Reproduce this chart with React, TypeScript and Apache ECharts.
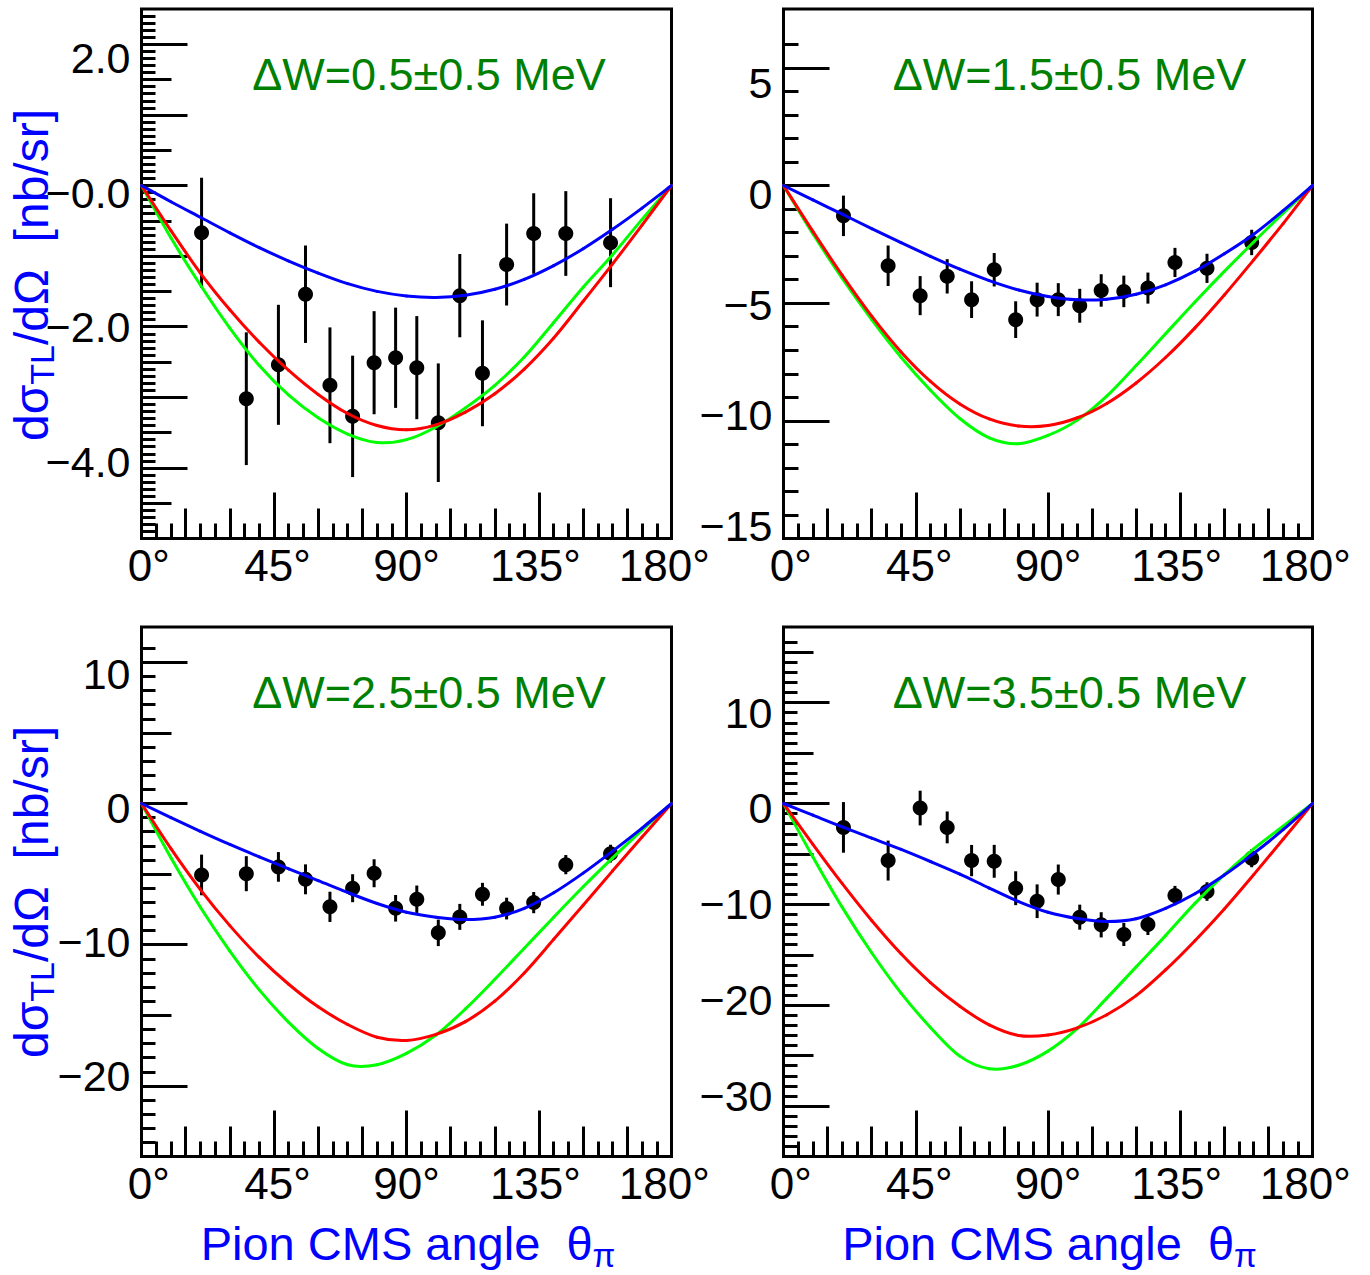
import React, { useEffect, useRef } from 'react';
import * as echarts from 'echarts';

const FONT = "'Liberation Sans', Arial, Helvetica, sans-serif";

// ---------- data ----------
const ANGLES = [20.4, 35.6, 46.5, 55.7, 64.0, 71.7, 79.0, 86.3, 93.5, 100.8, 108.1, 115.8, 124.0, 133.2, 144.1, 159.3];
const CURVE_ANGLES = [0, 10, 20, 30, 40, 50, 60, 70, 80, 90, 100, 110, 120, 130, 140, 150, 160, 170, 180];

const P1_VALUES = [-0.67, -3.02, -2.54, -1.54, -2.83, -3.27, -2.51, -2.44, -2.58, -3.36, -1.56, -2.66, -1.12, -0.68, -0.68, -0.81];
const P1_ERRORS = [0.78, 0.94, 0.85, 0.69, 0.82, 0.86, 0.73, 0.71, 0.73, 0.84, 0.59, 0.75, 0.58, 0.57, 0.60, 0.63];
const P1_BLUE = [0, -0.23, -0.45, -0.67, -0.88, -1.07, -1.24, -1.39, -1.50, -1.565, -1.585, -1.555, -1.47, -1.33, -1.135, -0.895, -0.62, -0.32, 0];
const P1_RED = [0, -0.64, -1.24, -1.76, -2.22, -2.62, -2.96, -3.23, -3.40, -3.46, -3.39, -3.21, -2.95, -2.60, -2.16, -1.64, -1.11, -0.56, 0];
const P1_GREEN = [0, -0.74, -1.41, -2.02, -2.55, -2.97, -3.29, -3.52, -3.64, -3.60, -3.42, -3.15, -2.83, -2.43, -1.94, -1.44, -0.98, -0.48, 0];

const P2_VALUES = [-1.29, -3.41, -4.68, -3.86, -4.85, -3.58, -5.70, -4.85, -4.85, -5.11, -4.46, -4.50, -4.36, -3.27, -3.52, -2.42];
const P2_ERRORS = [0.86, 0.86, 0.83, 0.73, 0.78, 0.71, 0.78, 0.72, 0.70, 0.72, 0.69, 0.67, 0.66, 0.62, 0.62, 0.54];
const P2_BLUE = [0, -0.61, -1.22, -1.83, -2.43, -3.01, -3.555, -4.04, -4.44, -4.72, -4.86, -4.83, -4.62, -4.22, -3.64, -2.90, -2.07, -1.07, 0];
const P2_RED = [0, -1.95, -3.82, -5.55, -7.07, -8.32, -9.28, -9.92, -10.22, -10.20, -9.87, -9.26, -8.39, -7.31, -6.05, -4.65, -3.16, -1.62, 0];
const P2_GREEN = [0, -2.05, -3.95, -5.70, -7.30, -8.70, -9.90, -10.72, -10.97, -10.62, -9.97, -8.95, -7.65, -6.30, -4.95, -3.65, -2.40, -1.18, 0];

const P3_VALUES = [-5.06, -4.97, -4.49, -5.37, -7.32, -6.00, -4.94, -7.42, -6.78, -9.16, -8.03, -6.43, -7.44, -7.02, -4.33, -3.55];
const P3_ERRORS = [1.44, 1.24, 1.05, 1.06, 1.07, 0.99, 0.99, 0.94, 0.97, 0.94, 0.92, 0.81, 0.77, 0.75, 0.68, 0.63];
const P3_BLUE = [0, -1.00, -1.97, -2.90, -3.78, -4.63, -5.46, -6.30, -7.08, -7.70, -8.05, -8.22, -8.05, -7.42, -6.32, -4.93, -3.37, -1.74, 0];
const P3_RED = [0, -3.20, -6.10, -8.65, -10.90, -12.80, -14.40, -15.65, -16.55, -16.78, -16.35, -15.45, -14.00, -12.00, -9.62, -7.20, -4.77, -2.38, 0];
const P3_GREEN = [0, -3.85, -7.35, -10.45, -13.20, -15.50, -17.35, -18.50, -18.50, -17.70, -16.40, -14.55, -12.45, -10.25, -8.05, -5.90, -3.85, -1.88, 0];

const P4_VALUES = [-2.37, -5.66, -0.45, -2.37, -5.66, -5.73, -8.40, -9.69, -7.54, -11.27, -12.03, -12.99, -12.00, -9.13, -8.73, -5.43];
const P4_ERRORS = [2.51, 1.98, 1.72, 1.58, 1.55, 1.63, 1.68, 1.67, 1.49, 1.24, 1.25, 1.14, 1.04, 0.96, 0.92, 0.89];
const P4_BLUE = [0, -1.15, -2.32, -3.43, -4.55, -5.75, -7.00, -8.38, -9.72, -10.78, -11.40, -11.70, -11.42, -10.40, -8.95, -7.10, -4.95, -2.60, 0];
const P4_RED = [0, -4.05, -7.95, -11.60, -14.90, -17.75, -20.10, -21.95, -23.00, -22.95, -22.25, -20.95, -19.05, -16.50, -13.60, -10.45, -7.05, -3.55, 0];
const P4_GREEN = [0, -5.30, -10.30, -14.80, -18.80, -22.20, -25.05, -26.30, -25.95, -24.55, -22.30, -19.30, -16.20, -13.10, -9.90, -7.05, -4.50, -2.25, 0];

// tick labels
const X_LABELS = [0, 45, 90, 135, 180];
const P1_LABELS = [2, 0, -2, -4];
const P2_LABELS = [5, 0, -5, -10, -15];
const P3_LABELS = [10, 0, -10, -20];
const P4_LABELS = [10, 0, -10, -20, -30];

const TITLES = ['ΔW=0.5±0.5 MeV', 'ΔW=1.5±0.5 MeV', 'ΔW=2.5±0.5 MeV', 'ΔW=3.5±0.5 MeV'];

// ---------- layout / styling ----------
const GRIDS = [
  { left: 141.5, top: 9, width: 530, height: 529.5 },
  { left: 783.5, top: 9, width: 529, height: 529.5 },
  { left: 141.5, top: 627, width: 530, height: 529.5 },
  { left: 783.5, top: 627, width: 529, height: 529.5 },
];

const range = (a: number, b: number, s: number) => {
  const out: number[] = [];
  const n = Math.round((b - a) / s);
  for (let i = 0; i <= n; i++) out.push(+(a + i * s).toFixed(3));
  return out;
};

const minus = (s: string) => s.replace('-', '\u2212');
const fmt1 = (v: number) => (v === 0 ? '\u22120.0' : minus(v.toFixed(1)));
const fmt0 = (v: number) => minus(String(v));

const PANELS = [
  { values: P1_VALUES, errors: P1_ERRORS, blue: P1_BLUE, red: P1_RED, green: P1_GREEN, yMin: -5, yMax: 2.5,
    longT: range(-5, 2, 1), midT: range(-5, 2, 0.5), smallT: range(-5, 2.4, 0.1), smallLen: 14,
    labels: P1_LABELS, fmt: fmt1, labMin: -5.141, labMax: 2.729 },
  { values: P2_VALUES, errors: P2_ERRORS, blue: P2_BLUE, red: P2_RED, green: P2_GREEN, yMin: -15, yMax: 7.5,
    longT: range(-15, 5, 5), midT: [] as number[], smallT: range(-15, 6, 1), smallLen: 15,
    labels: P2_LABELS, fmt: fmt0, labMin: -15.556, labMax: 8.333 },
  { values: P3_VALUES, errors: P3_ERRORS, blue: P3_BLUE, red: P3_RED, green: P3_GREEN, yMin: -25, yMax: 12.5,
    longT: range(-20, 10, 10), midT: range(-25, 10, 5), smallT: range(-25, 11, 1), smallLen: 14,
    labels: P3_LABELS, fmt: fmt0, labMin: -25.997, labMax: 13.547 },
  { values: P4_VALUES, errors: P4_ERRORS, blue: P4_BLUE, red: P4_RED, green: P4_GREEN, yMin: -35, yMax: 17.5,
    longT: range(-30, 10, 10), midT: range(-35, 15, 5), smallT: range(-35, 16, 1), smallLen: 14,
    labels: P4_LABELS, fmt: fmt0, labMin: -36.366, labMax: 18.935 },
];

const BLACK = '#000000';
const tickLine = { color: BLACK, width: 3, cap: 'butt' };
const noLine = { show: false, onZero: false };

// smooth curve drawn segment by segment (Catmull-Rom through the read points)
function curveSeries(arr: number[], color: string, xi: number, yi: number) {
  const pts = CURVE_ANGLES.map((a, i) => [a, arr[i]]);
  const data = pts.slice(0, -1).map((p, i) => {
    const p0 = pts[Math.max(i - 1, 0)];
    const p2 = pts[i + 1];
    const p3 = pts[Math.min(i + 2, pts.length - 1)];
    return [p[0], p[1], p2[0], p2[1], p0[0], p0[1], p3[0], p3[1]];
  });
  return {
    type: 'custom', xAxisIndex: xi, yAxisIndex: yi, z: 4, silent: true, clip: false,
    data, encode: { x: [0, 2], y: [1, 3] },
    renderItem: (_params: any, api: any) => {
      const a = api.coord([api.value(4), api.value(5)]);
      const b = api.coord([api.value(0), api.value(1)]);
      const c = api.coord([api.value(2), api.value(3)]);
      const d = api.coord([api.value(6), api.value(7)]);
      return {
        type: 'bezierCurve',
        shape: {
          x1: b[0], y1: b[1], x2: c[0], y2: c[1],
          cpx1: b[0] + (c[0] - a[0]) / 6, cpy1: b[1] + (c[1] - a[1]) / 6,
          cpx2: c[0] - (d[0] - b[0]) / 6, cpy2: c[1] - (d[1] - b[1]) / 6,
        },
        style: { stroke: color, lineWidth: 3, fill: 'none', lineCap: 'round' },
      };
    },
  };
}

function buildOption() {
  const grid: any[] = [];
  const xAxis: any[] = [];
  const yAxis: any[] = [];
  const series: any[] = [];

  PANELS.forEach((p, g) => {
    grid.push({ ...GRIDS[g], show: true, borderColor: BLACK, borderWidth: 3, backgroundColor: 'transparent', containLabel: false, outerBoundsMode: 'none' });

    xAxis.push({
      gridIndex: g, type: 'value', position: 'bottom', min: 0, max: 180, interval: 45,
      axisLine: noLine, splitLine: { show: false }, axisLabel: { show: false },
      axisTick: { show: true, inside: true, length: 46, lineStyle: tickLine },
    });
    xAxis.push({
      gridIndex: g, type: 'value', position: 'bottom', min: 0, max: 180, interval: 15,
      axisLine: noLine, splitLine: { show: false }, axisLabel: { show: false },
      axisTick: { show: true, inside: true, length: 30, lineStyle: tickLine },
      minorTick: { show: true, splitNumber: 3, length: 15, lineStyle: tickLine },
    });
    xAxis.push({
      gridIndex: g, type: 'value', position: 'bottom', min: -2.53, max: 182.53,
      axisLine: noLine, splitLine: { show: false }, axisTick: { show: false },
      axisLabel: { show: true, customValues: X_LABELS, formatter: (v: number) => `${v}°`, fontSize: 44, color: BLACK, fontFamily: FONT, margin: 5 },
    });

    const yTickAxis = (vals: number[], len: number) => ({
      gridIndex: g, type: 'value', position: 'left', min: p.yMin, max: p.yMax,
      axisLine: noLine, splitLine: { show: false }, axisLabel: { show: false },
      axisTick: { show: vals.length > 0, inside: true, length: len, lineStyle: tickLine, customValues: vals },
    });
    yAxis.push(yTickAxis(p.longT, 46));
    yAxis.push(yTickAxis(p.midT, 30));
    yAxis.push(yTickAxis(p.smallT, p.smallLen));
    yAxis.push({
      gridIndex: g, type: 'value', position: 'left', min: p.labMin, max: p.labMax,
      axisLine: noLine, splitLine: { show: false }, axisTick: { show: false },
      axisLabel: { show: true, customValues: p.labels, formatter: p.fmt, fontSize: 43, color: BLACK, fontFamily: FONT, margin: 11 },
    });

    const xi = g * 3;
    const yi = g * 4;

    series.push({
      type: 'custom', xAxisIndex: xi, yAxisIndex: yi, z: 3, clip: false,
      data: ANGLES.map((a, i) => [a, p.values[i], p.errors[i]]),
      encode: { x: 0, y: 1 },
      renderItem: (_params: any, api: any) => {
        const x = api.value(0);
        const y = api.value(1);
        const e = api.value(2);
        const c = api.coord([x, y]);
        const t = api.coord([x, y + e]);
        const b = api.coord([x, y - e]);
        return {
          type: 'group',
          children: [
            { type: 'line', shape: { x1: c[0], y1: t[1], x2: c[0], y2: b[1] }, style: { stroke: BLACK, lineWidth: 3 } },
            { type: 'circle', shape: { cx: c[0], cy: c[1], r: 7.5 }, style: { fill: BLACK } },
          ],
        };
      },
    });

    series.push(curveSeries(p.green, '#00ff00', xi, yi));
    series.push(curveSeries(p.red, '#ff0000', xi, yi));
    series.push(curveSeries(p.blue, '#0000ff', xi, yi));
  });

  const graphic: any[] = [];
  const titlePos = [[429, 74.5], [1069.5, 74.5], [429, 692.5], [1069.5, 692.5]];
  TITLES.forEach((t, i) => {
    graphic.push({
      type: 'text', x: titlePos[i][0], y: titlePos[i][1], silent: true,
      style: { text: t, fill: '#008000', fontSize: 45, fontFamily: FONT, align: 'center', verticalAlign: 'middle' },
    });
  });

  const yRich = {
    m: { fontSize: 48, fontFamily: FONT, fill: '#0000ff', lineHeight: 56, verticalAlign: 'middle' },
    s: { fontSize: 34, fontFamily: FONT, fill: '#0000ff', lineHeight: 26, verticalAlign: 'bottom' },
  };
  [[31.4, 275], [31.4, 892]].forEach(([x, y]) => {
    graphic.push({
      type: 'text', x, y, rotation: Math.PI / 2, silent: true,
      style: { text: '{m|dσ}{s|TL}{m|/dΩ\u00a0\u00a0[nb/sr]}', rich: yRich, fill: '#0000ff', fontSize: 48, fontFamily: FONT, align: 'center', verticalAlign: 'middle' },
    });
  });

  const xRich = {
    m: { fontSize: 47, fontFamily: FONT, fill: '#0000ff', lineHeight: 56, verticalAlign: 'middle' },
    s: { fontSize: 33, fontFamily: FONT, fill: '#0000ff', lineHeight: 26, verticalAlign: 'bottom' },
  };
  [[408, 1243.7], [1049.5, 1243.7]].forEach(([x, y]) => {
    graphic.push({
      type: 'text', x, y, silent: true,
      style: { text: '{m|Pion CMS angle\u00a0\u00a0θ}{s|π}', rich: xRich, fill: '#0000ff', fontSize: 47, fontFamily: FONT, align: 'center', verticalAlign: 'middle' },
    });
  });

  return {
    animation: false,
    backgroundColor: '#ffffff',
    textStyle: { fontFamily: FONT },
    grid, xAxis, yAxis, series, graphic,
  };
}

export default function App() {
  const ref = useRef<HTMLDivElement>(null);
  useEffect(() => {
    if (!ref.current) return;
    const chart = echarts.init(ref.current, undefined, { renderer: 'svg', width: 1370, height: 1275 });
    chart.setOption(buildOption() as any);
    return () => chart.dispose();
  }, []);
  return <div ref={ref} style={{ position: 'absolute', left: 0, top: 0, width: 1370, height: 1275, background: '#fff' }} />;
}
